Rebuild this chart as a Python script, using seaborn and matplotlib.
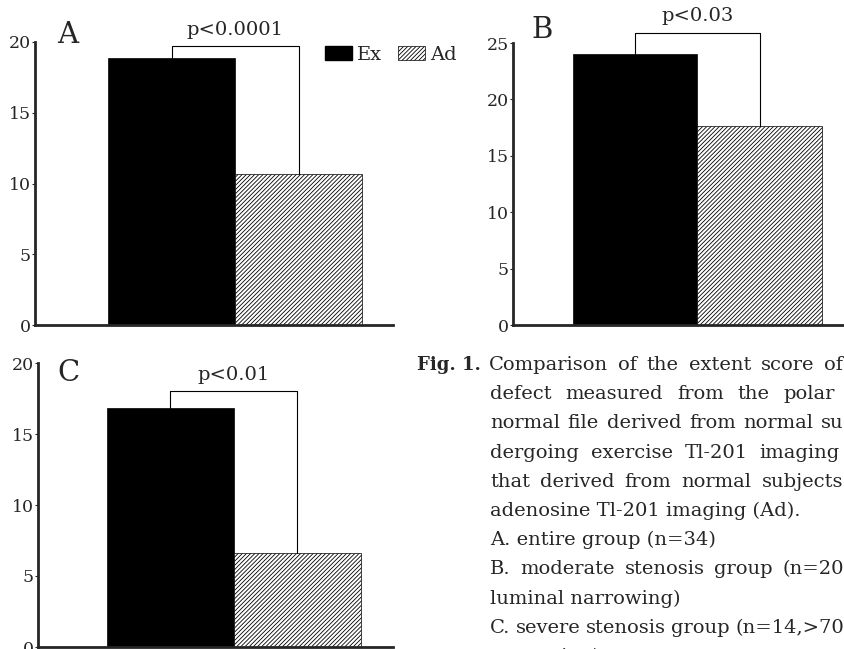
import matplotlib
matplotlib.use("Agg")
import matplotlib.pyplot as plt
import matplotlib.patches as mpatches
import seaborn as sns
import pandas as pd

# values (extent score)
groups = ["A", "B", "C"]
conditions = ["Ex", "Ad"]
ex_scores = [18.9, 24.0, 16.8]
ad_scores = [10.7, 17.6, 6.6]
p_labels = ["p<0.0001", "p<0.03", "p<0.01"]
y_max = [20, 25, 20]
bracket_tops = [19.7, 25.9, 18.0]

caption_lines = [
    "Comparison of the extent score of",
    "defect measured from the polar",
    "normal file derived from normal su",
    "dergoing exercise Tl-201 imaging",
    "that derived from normal subjects",
    "adenosine Tl-201 imaging (Ad).",
    "A. entire group (n=34)",
    "B. moderate stenosis group (n=20",
    "luminal narrowing)",
    "C. severe stenosis group (n=14,>70",
    "narrowing)",
]
justified = [True, True, True, True, True, False, False, True, False, True, False]
line_right = [843, 835, 844, 840, 843, 0, 0, 844, 0, 844, 0]

W, H = 844, 649
sns.set_style("ticks")
plt.rcParams["font.family"] = ["DejaVu Serif"]
plt.rcParams["hatch.linewidth"] = 0.6

fig = plt.figure(figsize=(W / 100, H / 100), dpi=100)

# axes boxes in pixels: left, top, width, height
boxes = [(35, 42, 358, 283), (513, 43, 331, 282), (38, 363, 355, 284)]
xlims = [(-1.075, 1.744), (-0.982, 1.677), (-1.043, 1.752)]
label_pos = [(0.092, 1.025), (0.088, 1.046), (0.085, 0.965)]

for i, g in enumerate(groups):
    l, t, w, h = boxes[i]
    ax = fig.add_axes([l / W, 1 - (t + h) / H, w / W, h / H])
    df = pd.DataFrame({"condition": conditions,
                       "score": [ex_scores[i], ad_scores[i]]})
    sns.barplot(data=df, x="condition", y="score", hue="condition",
                palette=["black", "white"], width=1, saturation=1,
                edgecolor="black", linewidth=0.5, legend=False, ax=ax)
    ax.patches[1].set_hatch("////////")

    ax.set_xlim(*xlims[i])
    ax.set_ylim(0, y_max[i])
    ax.set_yticks(range(0, y_max[i] + 1, 5))
    ax.set_xticks([])
    ax.set_xlabel("")
    ax.set_ylabel("")
    ax.tick_params(axis="y", length=2, width=0.8, pad=1, labelsize=12.5)
    sns.despine(ax=ax)
    for s in ["left", "bottom"]:
        ax.spines[s].set_linewidth(2)

    # significance bracket
    top = bracket_tops[i]
    ax.plot([0, 0, 1, 1], [ex_scores[i], top, top, ad_scores[i]],
            color="black", lw=0.8, clip_on=False)
    ax.annotate(p_labels[i], xy=(0.5, top), xytext=(0, 12),
                textcoords="offset points", ha="center", va="center",
                fontsize=14, annotation_clip=False)
    ax.text(label_pos[i][0], label_pos[i][1], g, transform=ax.transAxes,
            ha="center", va="center", fontsize=21)

# legend in panel A
handles = [mpatches.Patch(facecolor="black", edgecolor="black"),
           mpatches.Patch(facecolor="white", edgecolor="black", hatch="////////", lw=0.5)]
fig.legend(handles, conditions, loc="center left",
           bbox_to_anchor=(325 / W, 1 - 55 / H), ncol=2, frameon=False,
           fontsize=14, handlelength=1.4, handleheight=0.75,
           handletextpad=0.25, columnspacing=0.8, borderpad=0, borderaxespad=0)

# caption
fs = 14
fig.text(417 / W, 1 - 370 / H, "Fig. 1.", fontsize=13, fontweight="bold",
         va="baseline", ha="left")
renderer = fig.canvas.get_renderer()
for k, line in enumerate(caption_lines):
    x0 = 489 if k == 0 else 490
    yb = 1 - (370 + 29.2 * k) / H
    if not justified[k]:
        fig.text(x0 / W, yb, line, fontsize=fs, va="baseline", ha="left")
        continue
    words = line.split(" ")
    texts = [fig.text(0, yb, wd, fontsize=fs, va="baseline", ha="left") for wd in words]
    widths = [tx.get_window_extent(renderer).width for tx in texts]
    gap = (line_right[k] - x0 - sum(widths)) / (len(words) - 1)
    x = x0
    for tx, wd in zip(texts, widths):
        tx.set_x(x / W)
        x += wd + gap

fig.savefig("out.png", dpi=100)
